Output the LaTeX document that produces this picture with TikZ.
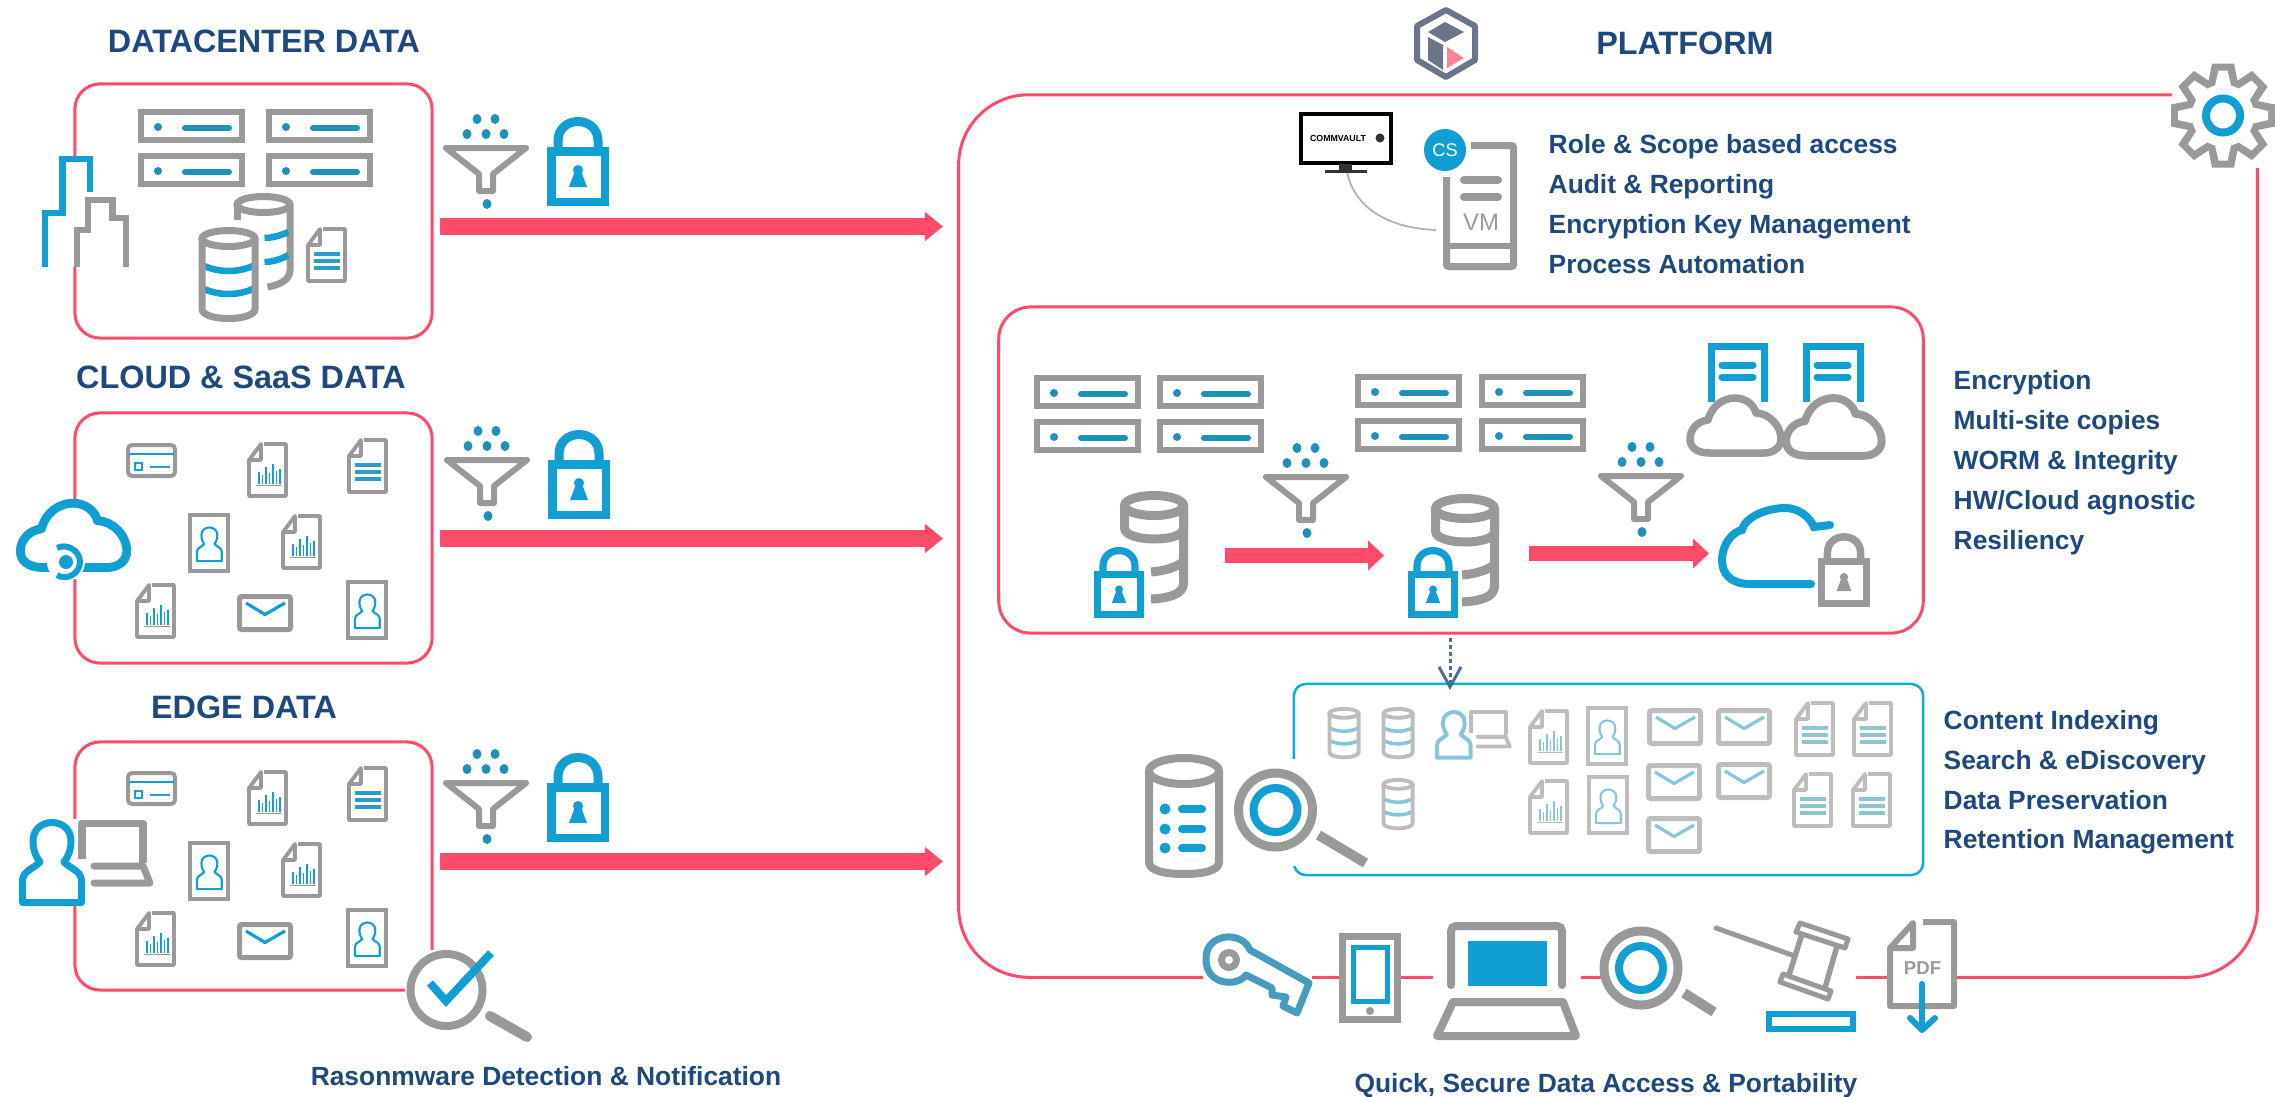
\documentclass[tikz,border=0pt]{standalone}
\usepackage{fontspec}
\setmainfont{Liberation Sans}
\usetikzlibrary{arrows.meta}
\definecolor{rd}{HTML}{FF4B69}
\definecolor{ig}{HTML}{999999}
\definecolor{ib}{HTML}{109ED3}
\definecolor{it}{HTML}{1F90B8}
\definecolor{nv}{HTML}{1F487C}
\definecolor{cy}{HTML}{0BAEDB}
\definecolor{igf}{HTML}{BDBDBD}
\definecolor{ibf}{HTML}{86C6D8}
\definecolor{hx}{HTML}{6B7587}
\def\lwk{1}
\tikzset{
lw/.style={line width=#1*\lwk*0.2845pt},
sz/.style={scale=#1,/utils/exec={\def\lwk{#1}}},
pics/srv/.style={code={
\draw[ig,lw=6](3,3)rectangle(104,31);
\fill[it](20,18)circle(4);
\draw[it,lw=6,line cap=round](47,19)--(91,19);}},
pics/srvq/.style={code={
\pic at(0,0){srv};\pic at(#1,0){srv};\pic at(0,44){srv};\pic at(#1,44){srv};}},
pics/fnl/.style={code={
\foreach \p in {(-9,-26),(9,-26),(-19,-11),(0,-11),(18,-11),(1,59)}{\fill[it]\p ellipse(4.5 and 5);}
\draw[ig,lw=6,line join=round](-40,3)--(40,3)--(7,29)--(7,46)--(-7,46)--(-7,29)--cycle;}},
pics/lck/.style={code={
\draw[ib,lw=8.5,fill=white](-26.75,4.25)rectangle(26.75,54.75);
\draw[ib,lw=9](-20,0)--(-20,-6)..controls(-20,-18)and(-11,-25.5)..(0,-25.5)..controls(11,-25.5)and(20,-18)..(20,-6)--(20,0);
\fill[ib](0,23)circle(5);
\fill[ib](-3,24)--(3,24)--(9,40)--(-9,40)--cycle;}},
pics/cyl/.style={code={
\fill[white](-26.5,11)--(-26.5,82)..controls(-26.5,88)and(-14,91.5)..(0,91.5)..controls(14,91.5)and(26.5,88)..(26.5,82)--(26.5,11)--cycle;
\draw[ib,lw=6.5](-26.5,38)..controls(-10,46)and(10,46)..(26.5,38);
\draw[ib,lw=6.5](-26.5,61)..controls(-10,69)and(10,69)..(26.5,61);
\draw[ig,lw=7](-26.5,11)--(-26.5,82)..controls(-26.5,88)and(-14,91.5)..(0,91.5)..controls(14,91.5)and(26.5,88)..(26.5,82)--(26.5,11);
\draw[ig,lw=7,fill=white](0,11.5)ellipse(26.5 and 8);}},
pics/dbb/.style={code={
\draw[ig,lw=7](26.5,11)--(26.5,77)..controls(26.5,87)and(16,92)..(4,94);
\draw[ig,lw=7](-26.5,11)--(-26.5,27);
\draw[ig,lw=7,fill=white](0,11.5)ellipse(26.5 and 8);
\draw[ib,lw=6.5](1,45)..controls(9,45)and(18,42)..(25,39);
\draw[ib,lw=6.5](1,69)..controls(9,69)and(18,66)..(25,62);}},
pics/dbl/.style={code={
\draw[ig,lw=9,fill=white](-29.5,15)--(-29.5,37)..controls(-29.5,45)and(-12,48)..(0,48)..controls(14,48)and(29.5,45)..(29.5,37)--(29.5,15);
\draw[ig,lw=9](29.5,15)--(29.5,92)..controls(29.5,103)and(16,107)..(-3,108);
\draw[ig,lw=9](-3,81)..controls(10,80)and(24,76)..(29.5,70);
\draw[ig,lw=9,fill=white](0,14.5)ellipse(29.5 and 10);}},
pics/dcc/.style={code={
\draw[ig,lw=3.8,fill=white,line join=round](17,2)--(39,2)--(39,54)--(2,54)--(2,18)--(14,2)--(14,18)--(2,18);
\draw[ig,lw=1](9,43)--(35,43);
\foreach \x/\h in {12/12,15.5/9,19/17,22.5/11,26/20,29.5/13,33/15}{\draw[ib,lw=1.6](\x,42)--(\x,42-\h);}}},
pics/dcl/.style={code={
\draw[ig,lw=3.8,fill=white,line join=round](17,2)--(39,2)--(39,54)--(2,54)--(2,18)--(14,2)--(14,18)--(2,18);
\draw[ib!80!ig,lw=3.2](8,27)--(34,27);
\draw[ib!80!ig,lw=3.2](8,34)--(34,34);
\draw[ib!80!ig,lw=3.2](8,41)--(34,41);}},
pics/crd/.style={code={
\draw[ig,lw=4,rounded corners=.04cm,fill=white](2,2)rectangle(49,33);
\draw[ib,lw=2.5](3,11)--(48,11);
\draw[ib,lw=2](9,20)rectangle(16,27);
\draw[ib!70!ig,lw=2.5](24,24)--(44,24);}},
pics/prs/.style={code={
\draw[ib,lw=#1,fill=white,line join=round](3.5,83.5)--(3.5,62)..controls(3.5,52)and(14,50)..(21,43)..controls(15,35)and(14,28)..(14,22)..controls(14,10)and(23,3.5)..(33,3.5)..controls(43,3.5)and(52,10)..(52,22)..controls(52,28)and(51,35)..(45,43)..controls(52,50)and(62.5,52)..(62.5,62)--(62.5,83.5)--cycle;}},
pics/pcd/.style={code={
\draw[ig,lw=4.5,fill=white](2,2)rectangle(40,58);
\pic[sz=.42]at(7.5,13){prs=5};}},
pics/env/.style={code={
\draw[ig,lw=5,rounded corners=.02cm,fill=white](2.5,2.5)rectangle(53.5,35.5);
\draw[ib,lw=3.2,line join=round](9,9)--(28,20.5)--(48,9);}},
pics/usr/.style={code={
\draw[ig,lw=7,line join=round](63,40)--(63,4)--(124,4)--(124,44);
\draw[ig,lw=7,line join=round,line cap=round](75,47)--(124,47)--(131,64)--(75,64);
\pic[transform shape]at(0,0){prs=7};}},
pics/cld/.style={code={
\draw[#1,lw=7.5,fill=white,line join=round](22,56)..controls(8,56)and(2,50)..(2,42)..controls(2,32)and(10,24)..(20,23)..controls(24,8)and(36,1)..(47,1)..controls(58,1)and(66,8)..(68,16)..controls(80,16)and(93,28)..(93,42)..controls(93,50)and(86,56)..(76,56)--cycle;}},
pics/mgf/.style={code={
\draw[ig,lw=9,fill=white](0,0)circle(37);
\draw[ib,lw=8](0,0)circle(22);
\draw[ig,lw=10](43,25)--(#1);}},
pics/cls/.style={code={
\pic at(0,0){crd};
\pic at(121,-1){dcc};
\pic at(221,-5){dcl};
\pic at(62,70){pcd};
\pic at(155,71){dcc};
\pic at(9,140){dcc};
\pic at(111,151){env};
\pic at(220,137){pcd};}}
}
\begin{document}
\begin{tikzpicture}[x=.01cm,y=-.01cm]
\tikzstyle{hd} = [text=nv,font=\bfseries\fontsize{9.2}{11}\selectfont,inner sep=0,anchor=base] %heading
\tikzstyle{tx} = [text=nv,font=\bfseries\fontsize{7.5}{9}\selectfont,inner sep=0,anchor=base west] %list line
\tikzstyle{cp} = [text=nv,font=\bfseries\fontsize{7.5}{9}\selectfont,inner sep=0,anchor=base] %caption
\tikzstyle{rb} = [draw=rd,lw=3,rounded corners=.25cm,inner sep=0] %red box
\tikzstyle{fa} = [rd,lw=17,-{Triangle[length=.18cm,width=.28cm]}] %fat arrow
\tikzstyle{sa} = [rd,lw=15,-{Triangle[length=.16cm,width=.29cm]}] %small arrow
\tikzstyle{mk} = [white] %mask
\useasboundingbox(0,0)rectangle(2275,1096);
% boxes
\node[rb,minimum width=3.57cm,minimum height=2.54cm](bxa)at(253.5,211){};
\node[rb,minimum width=3.57cm,minimum height=2.50cm](bxb)at(253.5,538){};
\node[rb,minimum width=3.57cm,minimum height=2.48cm](bxc)at(253.5,866){};
\node[rb,rounded corners=.7cm,minimum width=12.98cm,minimum height=8.82cm](bxp)at(1608,536){};
\node[rb,rounded corners=.32cm,minimum width=9.24cm,minimum height=3.26cm](bxr)at(1461,470){};
\node[draw=cy,lw=2.5,rounded corners=.12cm,inner sep=0,minimum width=6.29cm,minimum height=1.91cm](bxi)at(1608.5,779.5){};
% masks
\fill[mk](42,156)rectangle(129,267);
\fill[mk](20,502)rectangle(129,579);
\fill[mk](19,819)rectangle(86,906);
\fill[mk](405,950)rectangle(490,1033);
\fill[mk](1234,759)rectangle(1317,866);
\fill[mk](2172,64)rectangle(2275,168);
\fill[mk](1203,970)rectangle(1312,985);
\fill[mk](1339,970)rectangle(1401,985);
\fill[mk](1433,970)rectangle(1581,985);
\fill[mk](1601,970)rectangle(1856,985);
\fill[mk](1887,970)rectangle(1956,985);
% headings
\node[hd](tda)at(264,52){DATACENTER DATA};
\node[hd](tdb)at(241,388){CLOUD \& SaaS DATA};
\node[hd](tdc)at(244,718){EDGE DATA};
\node[hd](tdp)at(1685,54){PLATFORM};
% arrows
\coordinate(aa)at(440,226.5);\coordinate(ab)at(943,226.5);
\coordinate(ba)at(440,538.5);\coordinate(bb)at(943,538.5);
\coordinate(ca)at(440,861.5);\coordinate(cb)at(943,861.5);
\coordinate(da)at(1225,555.5);\coordinate(db)at(1384,555.5);
\coordinate(ea)at(1529,553.5);\coordinate(eb)at(1709,553.5);
\coordinate(fa)at(1450,638);\coordinate(fb)at(1450,690);
\draw[fa](aa)--(ab);
\draw[fa](ba)--(bb);
\draw[fa](ca)--(cb);
\draw[sa](da)--(db);
\draw[sa](ea)--(eb);
\draw[draw=nv!80,lw=3,dash pattern=on 1pt off 1pt,-{Straight Barb[length=.2cm,width=.22cm]}](fa)--(fb);
% datacenter
\pic at(138,109){srvq=128};
\pic at(263.5,193){dbb};
\pic at(228.5,227){cyl};
\pic at(306,227){dcl};
\draw[ib,lw=6](45,267)--(45,213)--(62.5,213)--(62.5,159)--(90,159)--(90,192);
\draw[ig,lw=6](77,267)--(77,230)--(88,230)--(88,200)--(112.5,200)--(112.5,218)--(126,218)--(126,267);
% cloud and edge
\pic at(126,443){cls};
\pic at(126,771){cls};
\pic[sz=1.17]at(18,502){cld=ib};
\fill[mk](66,562)circle(19);
\fill[ib](66,562)circle(7);
\draw[ib,lw=6](57,548)..controls(66,543)and(80,550)..(80,562)..controls(80,574)and(66,581)..(57,575);
\pic at(19,819){usr};
% filters and locks
\pic at(486,145){fnl};\pic at(578,147){lck};
\pic at(487,457){fnl};\pic at(579,460){lck};
\pic at(486,780){fnl};\pic at(578,783){lck};
% ransomware check
\draw[ig,lw=8,fill=white](446.5,990)circle(36);
\draw[ig,lw=10,line cap=round](490,1016)--(527,1037);
\draw[ib,lw=8](430,983)--(446,1001)--(491,953);
\node[cp](trn)at(546,1085){Rasonmware Detection \& Notification};
% platform head
\draw[hx,lw=6,line join=round,fill=white](1446,10)--(1475,26)--(1475,60)--(1446,77)--(1417,60)--(1417,26)--cycle;
\fill[hx](1445,22)--(1464,32)--(1445,42)--(1428,32)--cycle;
\fill[hx](1428,37)--(1443,45)--(1443,70)--(1428,60)--cycle;
\fill[rd!70!white](1447,47)--(1464,58)--(1447,68)--cycle;
% gear
\begin{scope}[shift={(2223,115.5)}]
\foreach \a in {0,45,...,315}{\fill[ig,rotate=\a](-11,-52)--(11,-52)--(15,-32)--(-15,-32)--cycle;}
\fill[ig](0,0)circle(38);
\foreach \a in {0,45,...,315}{\fill[white,rotate=\a](-4.5,-45)--(4.5,-45)--(8,-30)--(-8,-30)--cycle;}
\fill[white](0,0)circle(31);
\draw[ib,lw=8](0,0)circle(17);
\end{scope}
% commserve
\node[draw=black,lw=4,inner sep=0,fill=white,minimum width=.9cm,minimum height=.49cm](mon)at(1346,138.5){};
\node[font=\bfseries\fontsize{2.5}{3}\selectfont,inner sep=0](mvt)at(1338,138){COMMVAULT};
\node[circle,fill=black!80,inner sep=0,minimum size=.09cm](mvl)at(1380,138){};
\coordinate(vmp)at(1436,230);
\draw[draw=black!30,lw=1.8](mon.south)..controls(1350,205)and(1385,228)..(vmp);
\fill[black!80](1339,164)rectangle(1352,170);
\fill[black!80](1325,170)rectangle(1367,173);
\draw[ig,lw=7,rounded corners=.02cm](1471,145.5)--(1513.5,145.5)--(1513.5,266.5)--(1446.5,266.5)--(1446.5,177);
\draw[ig,lw=6](1446,245.5)--(1513,245.5);
\draw[ig,lw=8,line cap=round](1464,180)--(1498,180);
\draw[ig,lw=8,line cap=round](1464,197)--(1498,197);
\node[text=ig,font=\fontsize{6.8}{8}\selectfont,inner sep=0,anchor=base](vmt)at(1481,230){VM};
\node[circle,fill=ib,text=white,font=\fontsize{5.2}{6}\selectfont,inner sep=0,minimum size=.42cm](cst)at(1445,150){CS};
\node[tx](la)at(1548,153){Role \& Scope based access};
\node[tx](lb)at(1548,193){Audit \& Reporting};
\node[tx](lc)at(1548,233){Encryption Key Management};
\node[tx](ld)at(1548,273){Process Automation};
% replication
\pic at(1034,375){srvq=123};
\pic at(1355,374){srvq=124};
\pic at(1306,474){fnl};
\pic at(1641,473){fnl};
\pic at(1154,491){dbl};
\pic[sz=.8]at(1119,571){lck};
\pic at(1465,494){dbl};
\pic[sz=.8]at(1433,571){lck};
\draw[ib,lw=7](1711,402)--(1711,346)--(1764,346)--(1764,402);
\draw[ib,lw=7](1806,402)--(1806,346)--(1860,346)--(1860,402);
\draw[ib,lw=7,line cap=round](1722,365)--(1753,365);
\draw[ib,lw=7,line cap=round](1722,377)--(1753,377);
\draw[ib,lw=7,line cap=round](1817,365)--(1848,365);
\draw[ib,lw=7,line cap=round](1817,377)--(1848,377);
\pic at(1688,397){cld=ig};
\pic[sz=1.05]at(1784,397){cld=ig};
\draw[ib,lw=8,line cap=round](1811,584)--(1750,584)..controls(1732,584)and(1722,575)..(1722,560)..controls(1722,545)and(1732,532)..(1742,530)..controls(1746,515)and(1770,508)..(1785,508)..controls(1800,508)and(1810,518)..(1814,527)--(1830,525);
\begin{scope}
\colorlet{ib}{ig}
\pic[sz=.83]at(1844,558){lck};
\end{scope}
\node[tx](ma)at(1953,389){Encryption};
\node[tx](mb)at(1953,429){Multi-site copies};
\node[tx](mc)at(1953,469){WORM \& Integrity};
\node[tx](md)at(1953,509){HW/Cloud agnostic};
\node[tx](me)at(1953,549){Resiliency};
% index
\begin{scope}[shift={(1184,754)}]
\draw[ig,lw=8](-35,17)--(-35,108)..controls(-35,117)and(-18,120)..(0,120)..controls(18,120)and(35,117)..(35,108)--(35,17);
\draw[ig,lw=8,fill=white](0,17)ellipse(35 and 13);
\fill[ib](-19,55)circle(5.5);\draw[ib,lw=8,line cap=round](-2,55)--(18,55);
\fill[ib](-19,75)circle(5.5);\draw[ib,lw=8,line cap=round](-2,75)--(18,75);
\fill[ib](-19,94)circle(5.5);\draw[ib,lw=8,line cap=round](-2,94)--(18,94);
\end{scope}
\pic at(1275.5,810){mgf={90,53}};
\begin{scope}
\colorlet{ig}{igf}
\colorlet{ib}{ibf}
\pic[sz=.55]at(1344,707){cyl};
\pic[sz=.55]at(1398,707){cyl};
\pic[sz=.55]at(1398,778){cyl};
\pic[sz=.57]at(1435,710){usr};
\pic at(1528,709){dcc};
\pic at(1528,779){dcc};
\pic at(1586,706){pcd};
\pic at(1587,775){pcd};
\pic at(1647,708){env};
\pic at(1716,708){env};
\pic at(1646,763){env};
\pic at(1716,762){env};
\pic at(1646,816){env};
\pic at(1794,701){dcl};
\pic at(1852,701){dcl};
\pic at(1792,772){dcl};
\pic at(1851,772){dcl};
\end{scope}
\node[tx](na)at(1943,729){Content Indexing};
\node[tx](nb)at(1943,769){Search \& eDiscovery};
\node[tx](nc)at(1943,809){Data Preservation};
\node[tx](nd)at(1943,848){Retention Management};
% access row
\draw[ib!60!ig,lw=7,line join=round,fill=white](1246,975)..controls(1238,987)and(1205,986)..(1206,958)..controls(1206,933)and(1242,930)..(1250,950)--(1309,983)--(1297,1013)--(1283,1006)--(1286,997)--(1272,995)--(1272,988)--cycle;
\fill[ig](1229,960)circle(11);
\fill[white](1229,960)circle(4);
\draw[ig,lw=7](1342.5,936.5)rectangle(1397.5,1019.5);
\draw[ib,lw=5](1353.5,947.5)rectangle(1387.5,1001.5);
\fill[ig](1370,1011)circle(4);
\draw[ig,lw=8,line cap=round,rounded corners=.05cm](1451,985)--(1451,926)--(1562,926)--(1562,985);
\fill[ib](1468,941)rectangle(1547,986);
\draw[ig,lw=8,line join=round,fill=white](1453,1002)--(1563,1002)--(1576,1036)--(1437,1036)--cycle;
\draw[ig,lw=5](1437,1036)--(1576,1036);
\pic at(1641,968){mgf={73,44}};
\draw[ig,lw=5,line cap=round](1716,928)--(1792,955);
\draw[ig,lw=5,line join=round](1800,923)--(1848,939)--(1845,948)--(1796,932)--cycle;
\draw[ig,lw=5,line join=round](1783,974)--(1831,991)--(1828,999)--(1780,982)--cycle;
\draw[ig,lw=5.5](1802,934)--(1789,975);
\draw[ig,lw=5.5](1837,946)--(1825,988);
\draw[ib,lw=6](1769,1014)rectangle(1853,1029);
\draw[ig,lw=6,line join=round](1923,922)--(1954,922)--(1954,1006)--(1890,1006)--(1890,948)--(1913,923)--(1913,948)--(1890,948);
\node[text=ig,font=\bfseries\fontsize{5.3}{6}\selectfont,inner sep=0,anchor=base](pdt)at(1922.5,974){PDF};
\draw[ib,lw=6,line cap=round](1922,984)--(1922,1029);
\draw[ib,lw=6,line cap=round,line join=round](1910,1018)--(1922,1030)--(1935,1018);
\node[cp](tqk)at(1606,1092){Quick, Secure Data Access \& Portability};
\end{tikzpicture}
\end{document}
